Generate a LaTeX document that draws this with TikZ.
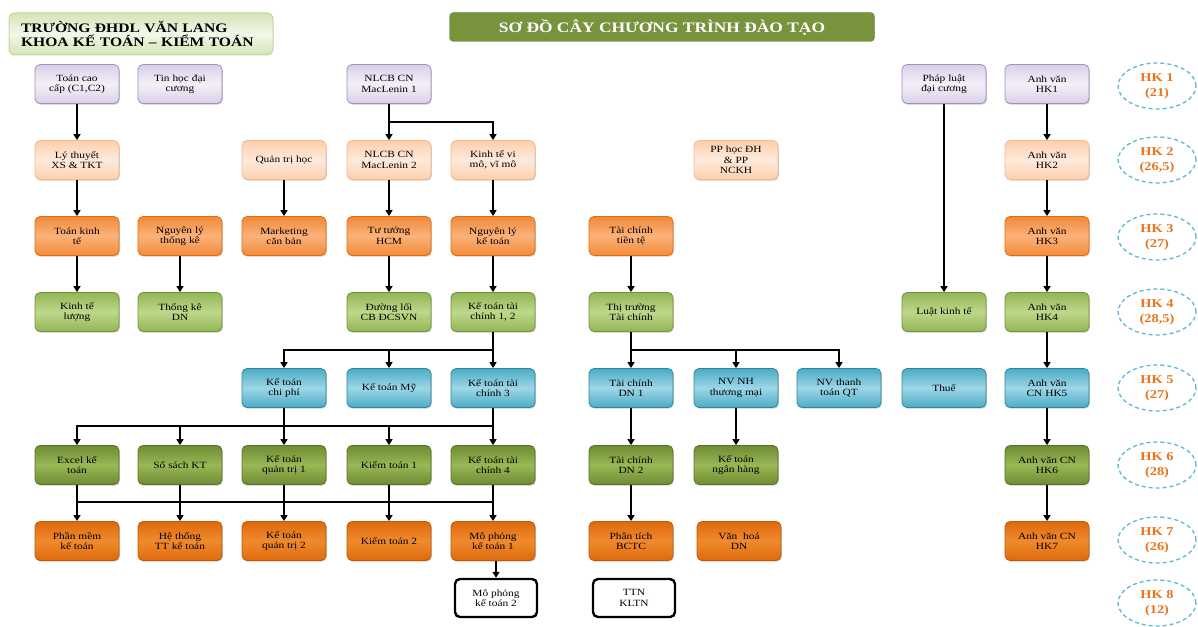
\documentclass[tikz,border=0pt]{standalone}
\usepackage{fontspec}
\setmainfont[FakeStretch=1.2]{Liberation Serif}
\usetikzlibrary{arrows.meta,shadows,shapes.geometric}

% palette
\definecolor{lavA}{HTML}{F3F0F7}
\definecolor{lavB}{HTML}{DAD0E8}
\definecolor{lavD}{HTML}{A08FC0}
\definecolor{peaA}{HTML}{FEEADB}
\definecolor{peaB}{HTML}{FBCFAD}
\definecolor{peaD}{HTML}{F9B98A}
\definecolor{orgA}{HTML}{FBB27A}
\definecolor{orgB}{HTML}{F28A3A}
\definecolor{orgD}{HTML}{E46C0A}
\definecolor{lgrA}{HTML}{BCD88A}
\definecolor{lgrB}{HTML}{93B555}
\definecolor{lgrD}{HTML}{76923C}
\definecolor{bluA}{HTML}{9DD6E6}
\definecolor{bluB}{HTML}{4BACC6}
\definecolor{bluD}{HTML}{31859C}
\definecolor{olvA}{HTML}{98B855}
\definecolor{olvB}{HTML}{6E8C33}
\definecolor{olvD}{HTML}{5A7228}
\definecolor{dorA}{HTML}{F08A2E}
\definecolor{dorB}{HTML}{DE6A0C}
\definecolor{dorD}{HTML}{C05A08}
\definecolor{hdrA}{HTML}{F2F7E8}
\definecolor{hdrB}{HTML}{D5E4B6}
\definecolor{hdrD}{HTML}{C3D69B}
\definecolor{ttlG}{HTML}{77933C}
\definecolor{hkO}{HTML}{E9741C}
\definecolor{hkB}{HTML}{5DB8D2}

\begin{document}
\begin{tikzpicture}[x=1pt,y=-1pt,
  box/.style={rounded corners=5pt, minimum width=84pt, minimum height=39pt,
    align=center, inner sep=2pt, line width=0.8pt,
    font=\fontsize{9.5}{10.5}\selectfont,
    drop shadow={shadow xshift=0.8pt, shadow yshift=-1.2pt, fill=black!45, opacity=0.45}},
  hkone/.style={box, draw=lavD, top color=lavB, bottom color=lavB, middle color=lavA},
  hktwo/.style={box, draw=peaD, top color=peaB, bottom color=peaB, middle color=peaA},
  hkthree/.style={box, draw=orgD, top color=orgB, bottom color=orgB, middle color=orgA},
  hkfour/.style={box, draw=lgrD, top color=lgrB, bottom color=lgrB, middle color=lgrA},
  hkfive/.style={box, draw=bluD, top color=bluB, bottom color=bluB, middle color=bluA},
  hksix/.style={box, draw=olvD, top color=olvB, bottom color=olvB, middle color=olvA},
  hkseven/.style={box, draw=dorD, top color=dorB, bottom color=dorB, middle color=dorA},
  hkeight/.style={rounded corners=5pt, minimum width=82pt, minimum height=38pt,
    align=center, inner sep=2pt, line width=2.4pt, draw=black, fill=white,
    font=\fontsize{9.5}{10.5}\selectfont},
  term/.style={ellipse, draw=hkB, dashed, dash pattern=on 4pt off 3pt,
    line width=1.3pt, minimum width=78pt, minimum height=46pt, inner sep=0pt,
    align=center, text=hkO, font=\bfseries\fontsize{12}{15}\selectfont},
  arr/.style={line width=2pt, -{Triangle[length=6pt,width=7pt]}},
  conn/.style={line width=2pt}
]
\useasboundingbox (0,0) rectangle (1198,626);

% headers
\node[rounded corners=6pt, draw=hdrD, line width=1pt, top color=hdrB, bottom color=hdrB,
  middle color=hdrA, minimum width=264pt, minimum height=42pt, align=left,
  text width=240pt, font=\bfseries\fontsize{13}{14.5}\selectfont] (school) at (141,34)
  {TRƯỜNG ĐHDL VĂN LANG\\KHOA KẾ TOÁN – KIỂM TOÁN};
\node[rounded corners=4pt, fill=ttlG, draw=ttlG!85!black, minimum width=425pt,
  minimum height=29pt, text=white, font=\bfseries\fontsize{14.5}{16}\selectfont]
  (title) at (662,27) {SƠ ĐỒ CÂY CHƯƠNG TRÌNH ĐÀO TẠO};

% semester 1
\node[hkone] (toan)  at (77,84)   {Toán cao\\cấp (C1,C2)};
\node[hkone] (tinhoc) at (180,84) {Tin học đại\\cương};
\node[hkone] (nlcbA) at (389,84)  {NLCB CN\\MacLenin 1};
\node[hkone] (pldc)  at (944,84)  {Pháp luật\\đại cương};
\node[hkone] (avA)   at (1047,84) {Anh văn\\HK1};

% semester 2
\node[hktwo] (lythuyet) at (77,160)  {Lý thuyết\\XS \& TKT};
\node[hktwo] (qth)      at (284,160) {Quản trị học};
\node[hktwo] (nlcbB)    at (389,160) {NLCB CN\\MacLenin 2};
\node[hktwo] (ktvm)     at (493,160) {Kinh tế vi\\mô, vĩ mô};
\node[hktwo] (pphoc)    at (736,160) {PP học ĐH\\\& PP\\NCKH};
\node[hktwo] (avB)      at (1047,160) {Anh văn\\HK2};

% semester 3
\node[hkthree] (tkt)   at (77,236)  {Toán kinh\\tế};
\node[hkthree] (nlytk) at (180,236) {Nguyên lý\\thống kê};
\node[hkthree] (mkt)   at (284,236) {Marketing\\căn bản};
\node[hkthree] (tthcm) at (389,236) {Tư tưởng\\HCM};
\node[hkthree] (nlkt)  at (493,236) {Nguyên lý\\kế toán};
\node[hkthree] (tctt)  at (631,236) {Tài chính\\tiền tệ};
\node[hkthree] (avC)   at (1047,236) {Anh văn\\HK3};

% semester 4
\node[hkfour] (ktl)    at (77,312)  {Kinh tế\\lượng};
\node[hkfour] (tkdn)   at (180,312) {Thống kê\\DN};
\node[hkfour] (dl)     at (389,312) {Đường lối\\CB ĐCSVN};
\node[hkfour] (kttcA)  at (493,312) {Kế toán tài\\chính 1, 2};
\node[hkfour] (tttc)   at (631,312) {Thị trường\\Tài chính};
\node[hkfour] (lkt)    at (944,312) {Luật kinh tế};
\node[hkfour] (avD)    at (1047,312) {Anh văn\\HK4};

% semester 5
\node[hkfive] (ktcp)  at (284,388) {Kế toán\\chi phí};
\node[hkfive] (ktmy)  at (389,388) {Kế toán Mỹ};
\node[hkfive] (kttcB) at (493,388) {Kế toán tài\\chính 3};
\node[hkfive] (tcdnA) at (631,388) {Tài chính\\DN 1};
\node[hkfive] (nvnh)  at (736,388) {NV NH\\thương mại};
\node[hkfive] (nvtt)  at (839,388) {NV thanh\\toán QT};
\node[hkfive] (thue)  at (944,388) {Thuế};
\node[hkfive] (avE)   at (1047,388) {Anh văn\\CN HK5};

% semester 6
\node[hksix] (excel)  at (77,465)  {Excel kế\\toán};
\node[hksix] (sosach) at (180,465) {Sổ sách KT};
\node[hksix] (ktqtA)  at (284,465) {Kế toán\\quản trị 1};
\node[hksix] (ktoanA) at (389,465) {Kiểm toán 1};
\node[hksix] (kttcC)  at (493,465) {Kế toán tài\\chính 4};
\node[hksix] (tcdnB)  at (631,465) {Tài chính\\DN 2};
\node[hksix] (ktnh)   at (736,465) {Kế toán\\ngân hàng};
\node[hksix] (avF)    at (1047,465) {Anh văn CN\\HK6};

% semester 7
\node[hkseven] (phanmem) at (77,541)  {Phần mềm\\kế toán};
\node[hkseven] (hethong) at (180,541) {Hệ thống\\TT kế toán};
\node[hkseven] (ktqtB)   at (284,541) {Kế toán\\quản trị 2};
\node[hkseven] (ktoanB)  at (389,541) {Kiểm toán 2};
\node[hkseven] (mophA)   at (493,541) {Mô phỏng\\kế toán 1};
\node[hkseven] (ptbctc)  at (631,541) {Phân tích\\BCTC};
\node[hkseven] (vhdn)    at (739,541) {Văn\ \ hoá\\DN};
\node[hkseven] (avG)     at (1047,541) {Anh văn CN\\HK7};

% semester 8
\node[hkeight] (mophB) at (496,598) {Mô phỏng\\kế toán 2};
\node[hkeight] (ttn)   at (634,598) {TTN\\KLTN};

% semester labels
\node[term] (hA) at (1157,86)  {HK 1\\(21)};
\node[term] (hB) at (1157,160) {HK 2\\(26,5)};
\node[term] (hC) at (1157,237) {HK 3\\(27)};
\node[term] (hD) at (1157,312) {HK 4\\(28,5)};
\node[term] (hE) at (1157,388) {HK 5\\(27)};
\node[term] (hF) at (1157,465) {HK 6\\(28)};
\node[term] (hG) at (1157,540) {HK 7\\(26)};
\node[term] (hH) at (1157,603) {HK 8\\(12)};

% junctions of branching connectors
\coordinate (jA) at (389,122);
\coordinate (jB) at (493,350);
\coordinate (jC) at (493,426);
\coordinate (jDl) at (77,502);
\coordinate (jDr) at (493,502);
\coordinate (jE) at (631,350);

% column 1 and 2 chains
\draw[arr] (toan) -- (lythuyet);
\draw[arr] (lythuyet) -- (tkt);
\draw[arr] (tkt) -- (ktl);
\draw[arr] (nlytk) -- (tkdn);
\draw[arr] (qth) -- (mkt);

% political and economics chains
\draw[arr] (nlcbA) -- (nlcbB);
\draw[arr] (jA) -| (ktvm.north);
\draw[arr] (nlcbB) -- (tthcm);
\draw[arr] (tthcm) -- (dl);
\draw[arr] (ktvm) -- (nlkt);
\draw[arr] (nlkt) -- (kttcA);

% accounting tree
\draw[arr] (kttcA) -- (kttcB);
\draw[arr] (jB) -| (ktcp.north);
\draw[arr] (jB) -| (ktmy.north);
\draw[arr] (ktcp) -- (ktqtA);
\draw[arr] (kttcB) -- (kttcC);
\draw[arr] (jC) -| (excel.north);
\draw[arr] (jC) -| (sosach.north);
\draw[arr] (jC) -| (ktoanA.north);
\draw[conn] (jDl) -- (jDr);
\draw[arr] (excel) -- (phanmem);
\draw[arr] (sosach) -- (hethong);
\draw[arr] (ktqtA) -- (ktqtB);
\draw[arr] (ktoanA) -- (ktoanB);
\draw[arr] (kttcC) -- (mophA);
\draw[arr] (mophA.south -| mophB.north) -- (mophB.north);

% finance tree
\draw[arr] (tctt) -- (tttc);
\draw[arr] (tttc) -- (tcdnA);
\draw[arr] (jE) -| (nvnh.north);
\draw[arr] (jE) -| (nvtt.north);
\draw[arr] (tcdnA) -- (tcdnB);
\draw[arr] (tcdnB) -- (ptbctc);
\draw[arr] (nvnh) -- (ktnh);

% law and English
\draw[arr] (pldc) -- (lkt);
\draw[arr] (avA) -- (avB);
\draw[arr] (avB) -- (avC);
\draw[arr] (avC) -- (avD);
\draw[arr] (avD) -- (avE);
\draw[arr] (avE) -- (avF);
\draw[arr] (avF) -- (avG);
\end{tikzpicture}
\end{document}
